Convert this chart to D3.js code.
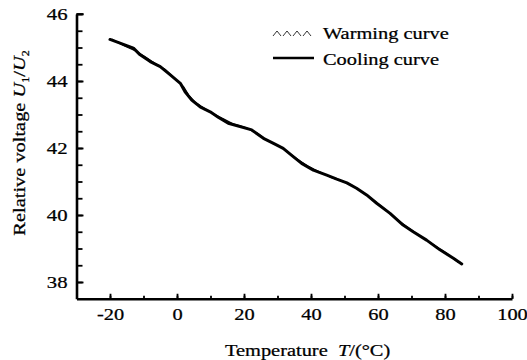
<html>
<head>
<script src="https://d3js.org/d3.v7.min.js" charset="utf-8"></script>
<style>
  body { margin: 0; background: #fff; }
  svg text { font-family: "Liberation Serif", "Times New Roman", serif; fill: #000; stroke: #000; stroke-width: 0.25px; }
</style>
</head>
<body>
<script>
// temperature (°C) and relative voltage
const coolT = [-20, -17, -13, -11, -8, -5, -2, 1, 2.4, 4.4, 6.9, 9.9, 12.3, 15.3, 18.8, 22.3, 25.8, 28.8,
               31.7, 34.7, 37.2, 40.7, 44.7, 47.7, 50.7, 53.6, 56.6, 59.6, 63.6, 67.5, 70.5, 74.5, 78.5, 82.5, 85];
const coolV = [45.24, 45.13, 44.98, 44.78, 44.58, 44.43, 44.18, 43.93, 43.68, 43.43, 43.23, 43.08, 42.92, 42.74,
               42.64, 42.54, 42.29, 42.14, 41.99, 41.74, 41.54, 41.34, 41.19, 41.07, 40.96, 40.80, 40.60, 40.35,
               40.05, 39.70, 39.50, 39.25, 38.96, 38.71, 38.54];
const warmT = [-19.5, -16, -12, -9.5, -6.5, -3.5, -0.5, 2, 3.5, 5.5, 8.5, 11, 14, 17, 20.5, 24, 27, 30.5,
               33, 36, 39, 42.5, 46, 49, 52, 55, 58, 61.5, 65.5, 69, 72.5, 76.5, 80.5, 84];
const warmV = [45.25, 45.06, 44.88, 44.72, 44.52, 44.34, 44.06, 43.82, 43.58, 43.36, 43.16, 43.01, 42.86,
               42.71, 42.61, 42.44, 42.22, 42.06, 41.88, 41.66, 41.46, 41.29, 41.12, 41.02, 40.90, 40.70,
               40.49, 40.22, 39.88, 39.62, 39.38, 39.12, 38.86, 38.58];
const xTicks = [-20, 0, 20, 40, 60, 80, 100];
const yTicks = [38, 40, 42, 44, 46];

const w = 527, h = 360;
const svg = d3.select("body").append("svg").attr("width", w).attr("height", h);

const x = d3.scaleLinear().domain([-30, 100]).range([76.5, 512]);
const y = d3.scaleLinear().domain([37.5, 46]).range([298.75, 14]);

// the original lettering is a wide serif, stretch it horizontally
function stretch(sel, k) {
  sel.each(function () {
    const t = d3.select(this);
    const x0 = +t.attr("x") || 0;
    t.attr("x", x0 / k).attr("transform", "scale(" + k + ",1)");
  });
}

// minor ticks first
svg.append("g")
  .attr("transform", "translate(0," + y(37.5) + ")")
  .call(d3.axisBottom(x).tickValues(d3.range(-30, 101, 10)).tickSize(-3).tickFormat(""))
  .call(g => g.select(".domain").remove());
svg.append("g")
  .attr("transform", "translate(" + x(-30) + ",0)")
  .call(d3.axisLeft(y).tickValues(d3.range(38, 46.1, 0.5)).tickSize(-6).tickFormat(""))
  .call(g => g.select(".domain").remove());

const xAxis = svg.append("g")
  .attr("transform", "translate(0," + y(37.5) + ")")
  .call(d3.axisBottom(x).tickValues(xTicks).tickSize(-5).tickSizeOuter(0).tickPadding(9)
    .tickFormat(d => String(d)));
const yAxis = svg.append("g")
  .attr("transform", "translate(" + x(-30) + ",0)")
  .call(d3.axisLeft(y).tickValues(yTicks).tickSize(-7).tickSizeOuter(0).tickPadding(9));

svg.selectAll(".tick line").attr("stroke", "#000").attr("stroke-width", 1.8);
svg.selectAll(".domain").attr("stroke", "#000").attr("stroke-width", 2.6);
// top cap of y axis
svg.append("line").attr("x1", x(-30)).attr("x2", x(-30) + 7)
  .attr("y1", y(46)).attr("y2", y(46)).attr("stroke", "#000").attr("stroke-width", 1.8);

xAxis.selectAll("text").attr("font-size", 17);
yAxis.selectAll("text").attr("font-size", 17);
stretch(xAxis.selectAll("text"), 1.2);
stretch(yAxis.selectAll("text"), 1.22);

const line = d3.line().x(d => x(d[0])).y(d => y(d[1]));
const coolData = coolT.map((t, i) => [t, coolV[i]]);
const warmData = warmT.map((t, i) => [t, warmV[i]]);

svg.append("path").datum(warmData)
  .attr("d", line).attr("fill", "none").attr("stroke", "#000").attr("stroke-width", 1.3);
svg.append("path").datum(coolData)
  .attr("d", line).attr("fill", "none").attr("stroke", "#000")
  .attr("stroke-width", 3).attr("stroke-linejoin", "round").attr("stroke-linecap", "round");

// axis titles
const xt = svg.append("text").attr("x", 225).attr("y", 356).attr("font-size", 17);
xt.append("tspan").text("Temperature  ").attr("xml:space", "preserve");
xt.append("tspan").attr("font-style", "italic").text("T");
xt.append("tspan").text("/(\u00b0C)");
xt.attr("xml:space", "preserve");
stretch(xt, 1.2);

const yt = svg.append("text").attr("text-anchor", "middle").attr("font-size", 17)
  .attr("transform", "translate(25,143) rotate(-90) scale(1.2,1)");
yt.append("tspan").text("Relative voltage ");
yt.append("tspan").attr("font-style", "italic").text("U");
yt.append("tspan").attr("font-size", 10).attr("dy", 4).text("1");
yt.append("tspan").attr("dy", -4).text("/");
yt.append("tspan").attr("font-style", "italic").text("U");
yt.append("tspan").attr("font-size", 10).attr("dy", 4).text("2");

// legend
const lg = svg.append("g").attr("transform", "translate(273,0)");
const carets = d3.range(4).map(i => "M" + (i * 10) + ",36L" + (i * 10 + 4) + ",31L" + (i * 10 + 8) + ",36").join("");
lg.append("path").attr("d", carets).attr("fill", "none").attr("stroke", "#000").attr("stroke-width", 0.8);
lg.append("line").attr("x1", 0).attr("x2", 41).attr("y1", 58).attr("y2", 58)
  .attr("stroke", "#000").attr("stroke-width", 2.4);
const l1 = lg.append("text").attr("x", 50).attr("y", 39).attr("font-size", 17).text("Warming curve");
const l2 = lg.append("text").attr("x", 50).attr("y", 65).attr("font-size", 17).text("Cooling curve");
stretch(l1, 1.2);
stretch(l2, 1.2);
</script>
</body>
</html>
